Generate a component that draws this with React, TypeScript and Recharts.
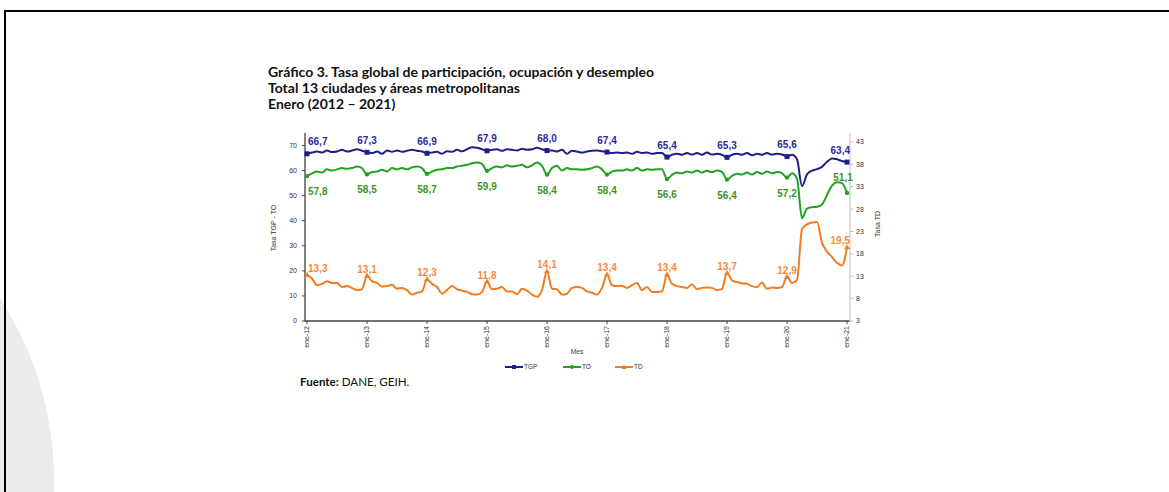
import { LineChart, Line, XAxis, YAxis, LabelList } from "recharts";

const MONTHS = ["ene", "feb", "mar", "abr", "may", "jun", "jul", "ago", "sep", "oct", "nov", "dic"];
const YEARS = ["12", "13", "14", "15", "16", "17", "18", "19", "20", "21"];
// ene-12 ... ene-21
const PERIODS = YEARS.flatMap((y) => MONTHS.map((m) => `${m}-${y}`)).slice(0, 109);

// Tasa global de participación
const TGP = [
  66.7, 67.2, 67.6, 67.2, 68.0, 67.4, 67.6, 68.3, 67.6, 68.0, 68.5, 67.9,
  67.3, 67.0, 67.6, 66.7, 68.0, 67.5, 68.0, 67.5, 67.9, 68.3, 67.9, 67.6,
  66.9, 67.2, 67.5, 66.7, 67.7, 67.5, 68.3, 67.7, 68.5, 69.3, 69.1, 68.5,
  67.9, 68.3, 68.5, 67.9, 68.5, 68.3, 68.0, 68.7, 68.3, 68.5, 69.1, 68.5,
  68.0, 68.0, 67.6, 68.3, 66.7, 67.9, 67.6, 67.2, 67.6, 67.9, 68.0, 67.7,
  67.4, 67.0, 67.2, 67.0, 67.2, 66.7, 67.5, 67.0, 67.2, 66.7, 67.0, 67.0,
  65.4, 66.3, 66.7, 66.3, 67.0, 66.4, 67.0, 66.3, 67.2, 66.4, 66.7, 66.3,
  65.3, 66.3, 66.7, 66.3, 67.0, 66.1, 66.7, 66.3, 67.0, 66.4, 66.7, 66.4,
  65.6, 66.3, 64.5, 53.8, 58.5, 60.0, 60.6, 61.5, 63.5, 64.8, 64.5, 63.8,
  63.4,
];

// Tasa de ocupación
const TO = [
  57.8, 58.9, 59.6, 59.2, 60.5, 60.0, 60.5, 61.0, 60.7, 61.0, 61.6, 61.0,
  58.5, 59.4, 59.6, 60.3, 59.6, 61.0, 60.5, 61.0, 60.5, 61.3, 61.6, 61.0,
  58.7, 59.6, 60.3, 60.5, 61.0, 61.0, 61.6, 61.9, 62.3, 62.9, 63.2, 62.7,
  59.9, 61.0, 61.6, 61.3, 62.1, 61.6, 61.9, 62.3, 61.3, 62.1, 63.2, 61.9,
  58.4, 61.0, 61.9, 60.0, 61.0, 60.5, 60.5, 60.3, 60.5, 61.0, 61.6, 60.5,
  58.4, 59.6, 60.0, 60.0, 60.5, 60.0, 61.0, 60.0, 60.5, 60.3, 60.5, 60.5,
  56.6, 58.3, 59.2, 58.9, 59.6, 59.2, 60.0, 59.2, 59.9, 59.4, 60.0, 59.5,
  56.4, 57.9, 58.7, 58.4, 59.2, 58.4, 59.4, 58.7, 59.6, 58.9, 59.4, 58.9,
  57.2, 58.9, 56.8, 41.0, 44.8, 45.4, 45.6, 46.5, 50.3, 54.0, 55.4, 55.0,
  51.1,
];

// Tasa de desempleo (eje derecho)
const TD = [
  13.3, 12.5, 11.0, 11.3, 11.9, 11.5, 11.5, 10.6, 10.8, 10.4, 9.9, 10.1,
  13.1, 11.9, 11.5, 10.7, 10.8, 11.1, 10.2, 10.4, 9.9, 8.9, 9.3, 9.6,
  12.3, 11.3, 10.6, 9.1, 9.9, 10.8, 10.1, 9.8, 9.5, 9.0, 8.9, 9.5,
  11.8, 10.1, 10.2, 10.6, 9.6, 9.6, 9.0, 10.2, 9.8, 8.9, 8.4, 9.9,
  14.1, 10.2, 10.1, 8.9, 9.1, 10.4, 10.6, 10.4, 9.6, 9.3, 8.9, 10.4,
  13.4, 11.0, 10.8, 10.8, 10.4, 11.0, 11.5, 9.9, 10.6, 9.5, 9.5, 9.6,
  13.4, 11.3, 10.8, 10.6, 10.4, 11.2, 10.1, 10.4, 10.5, 10.4, 9.9, 10.2,
  13.7, 12.1, 11.7, 11.4, 11.3, 10.8, 10.6, 11.6, 10.2, 10.5, 10.4, 10.6,
  12.9, 11.5, 12.2, 23.5, 24.6, 25.0, 25.1, 20.5, 18.5, 17.3, 16.0, 15.4,
  19.5,
];

const LEFT_TICKS = [0, 10, 20, 30, 40, 50, 60, 70];
const RIGHT_TICKS = [3, 8, 13, 18, 23, 28, 33, 38, 43];

const NAVY = "#1f1f8c";
const GREEN = "#22a222";
const ORANGE = "#f07d22";

const data = PERIODS.map((mes, i) => ({ mes, tgp: TGP[i], to: TO[i], td: TD[i] }));
const LAST = PERIODS.length - 1;

const fmt = (v: number) => v.toFixed(1).replace(".", ",");

const MonthTick = (props: any) => {
  const { x, y, payload } = props;
  return (
    <text
      transform={`translate(${x},${y}) rotate(-90)`}
      textAnchor="end"
      dy="0.35em"
      fontSize={7}
      fill="#333"
      fontFamily="Liberation Sans, Arial, sans-serif"
    >
      {payload.value}
    </text>
  );
};

const tgpDot = (p: any) =>
  p.index % 12 === 0 ? (
    <rect key={p.index} x={p.cx - 2.5} y={p.cy - 2.5} width={5} height={5} fill={NAVY} />
  ) : (
    <g key={p.index} />
  );

const toDot = (p: any) =>
  p.index % 12 === 0 ? (
    <circle key={p.index} cx={p.cx} cy={p.cy} r={2.2} fill={GREEN} />
  ) : (
    <g key={p.index} />
  );

const tdDot = (p: any) =>
  p.index % 12 === 0 ? (
    <path key={p.index} d={`M${p.cx},${p.cy - 3}L${p.cx + 3},${p.cy + 2}L${p.cx - 3},${p.cy + 2}Z`} fill={ORANGE} />
  ) : (
    <g key={p.index} />
  );

// one label per January
const makeLabel = (color: string, below: boolean) => (p: any) => {
  const { x, y, value, index } = p;
  if (index % 12 !== 0) return null;
  let anchor = "middle";
  let lx = x;
  let ly = below ? y + 19 : y - 8.5;
  if (index === 0) {
    anchor = "start";
    lx = x + 1;
  }
  if (index === LAST) {
    if (below) {
      ly = y - 12;
      lx = x - 4;
    } else {
      anchor = "end";
      lx = x + 3;
    }
  }
  return (
    <text
      key={index}
      x={lx}
      y={ly}
      textAnchor={anchor}
      fontSize={10}
      fontWeight="bold"
      fill={color}
      fontFamily="Liberation Sans, Arial, sans-serif"
    >
      {fmt(value)}
    </text>
  );
};

const tdLabel = (p: any) => {
  const { x, y, value, index } = p;
  if (index % 12 !== 0) return null;
  let anchor = "middle";
  let lx = x;
  if (index === 0) {
    anchor = "start";
    lx = x + 1;
  }
  if (index === LAST) {
    anchor = "end";
    lx = x + 3;
  }
  return (
    <text
      key={index}
      x={lx}
      y={y - 3}
      textAnchor={anchor}
      fontSize={10}
      fontWeight="bold"
      fill="#f78a3a"
      fontFamily="Liberation Sans, Arial, sans-serif"
    >
      {fmt(value)}
    </text>
  );
};

const axisTick = { fontSize: 7, fill: "#333", fontFamily: "Liberation Sans, Arial, sans-serif" };

function LegendItem({ x, color, name, shape }: { x: number; color: string; name: string; shape: string }) {
  const cx = x + 9;
  return (
    <g>
      <line x1={x} y1={367} x2={x + 18} y2={367} stroke={color} strokeWidth={2} />
      {shape === "square" && <rect x={cx - 2} y={365} width={4} height={4} fill={color} />}
      {shape === "circle" && <circle cx={cx} cy={367} r={2} fill={color} />}
      {shape === "tri" && <path d={`M${cx},${364.5}L${cx + 2.5},${369}L${cx - 2.5},${369}Z`} fill={color} />}
      <text x={x + 19} y={369.2} fontSize={6.5} fill="#333" fontFamily="Liberation Sans, Arial, sans-serif">
        {name}
      </text>
    </g>
  );
}

export default function App() {
  return (
    <div
      style={{
        position: "fixed",
        left: 0,
        top: 0,
        width: 1169,
        height: 492,
        overflow: "hidden",
        background: "#fff",
      }}
    >
      {/* decorative circle bottom-left */}
      <div
        style={{
          position: "absolute",
          left: -279 - 333,
          top: 480 - 333,
          width: 666,
          height: 666,
          borderRadius: "50%",
          background: "#ebebeb",
        }}
      />
      {/* page frame */}
      <div
        style={{
          position: "absolute",
          left: 4,
          top: 10,
          width: 1200,
          height: 600,
          borderTop: "2px solid #000",
          borderLeft: "2px solid #000",
        }}
      />

      <div
        style={{
          position: "absolute",
          left: 268,
          top: 64,
          fontFamily: "Lato, sans-serif",
          fontWeight: "bold",
          fontSize: 14,
          lineHeight: "16px",
          color: "#111",
          whiteSpace: "nowrap",
        }}
      >
        <div>Gráfico 3. Tasa global de participación, ocupación y desempleo</div>
        <div>Total 13 ciudades y áreas metropolitanas</div>
        <div>Enero (2012 – 2021)</div>
      </div>

      <div style={{ position: "absolute", left: 260, top: 125 }}>
        <LineChart width={640} height={260} data={data} margin={{ top: 8, right: 0, bottom: 0, left: 0 }}>
          <XAxis
            dataKey="mes"
            interval={11}
            height={64}
            tick={<MonthTick />}
            tickSize={3}
            tickLine={{ stroke: "#444" }}
            axisLine={{ stroke: "#444", strokeWidth: 1.5 }}
            padding={{ left: 2, right: 3 }}
          />
          <YAxis
            yAxisId="l"
            domain={[0, 75]}
            ticks={LEFT_TICKS}
            width={45}
            tickSize={3}
            tickMargin={5}
            tick={axisTick}
            tickLine={{ stroke: "#444" }}
            axisLine={{ stroke: "#333", strokeWidth: 1.2 }}
          />
          <YAxis
            yAxisId="r"
            orientation="right"
            domain={[3, 45]}
            ticks={RIGHT_TICKS}
            width={50}
            tickSize={3}
            tickMargin={3}
            tick={axisTick}
            tickLine={{ stroke: "#bbb" }}
            axisLine={{ stroke: "#ccc", strokeWidth: 1.2 }}
          />
          <Line
            yAxisId="l"
            type="monotone"
            dataKey="tgp"
            stroke={NAVY}
            strokeWidth={2}
            dot={tgpDot}
            activeDot={false}
            isAnimationActive={false}
          >
            <LabelList dataKey="tgp" content={makeLabel("#2a2a9c", false)} />
          </Line>
          <Line
            yAxisId="l"
            type="monotone"
            dataKey="to"
            stroke={GREEN}
            strokeWidth={2}
            dot={toDot}
            activeDot={false}
            isAnimationActive={false}
          >
            <LabelList dataKey="to" content={makeLabel("#3f9420", true)} />
          </Line>
          <Line
            yAxisId="r"
            type="monotone"
            dataKey="td"
            stroke={ORANGE}
            strokeWidth={2}
            dot={tdDot}
            activeDot={false}
            isAnimationActive={false}
          >
            <LabelList dataKey="td" content={tdLabel} />
          </Line>
        </LineChart>
      </div>

      <svg style={{ position: "absolute", left: 0, top: 0 }} width={1169} height={492}>
        <text
          transform="translate(276,228) rotate(-90)"
          textAnchor="middle"
          fontSize={7}
          fill="#333"
          fontFamily="Liberation Sans, Arial, sans-serif"
        >
          Tasa TGP - TO
        </text>
        <text
          transform="translate(880,224) rotate(-90)"
          textAnchor="middle"
          fontSize={7}
          fill="#333"
          fontFamily="Liberation Sans, Arial, sans-serif"
        >
          Tasa TD
        </text>
        <text x={577} y={354} textAnchor="middle" fontSize={6.5} fill="#333" fontFamily="Liberation Sans, Arial, sans-serif">
          Mes
        </text>
        <LegendItem x={505} color={NAVY} name="TGP" shape="square" />
        <LegendItem x={563} color={GREEN} name="TO" shape="circle" />
        <LegendItem x={615} color={ORANGE} name="TD" shape="tri" />
      </svg>

      <div
        style={{
          position: "absolute",
          left: 300,
          top: 375,
          fontFamily: "Lato, sans-serif",
          fontSize: 11.6,
          lineHeight: "14px",
          color: "#111",
          whiteSpace: "nowrap",
        }}
      >
        <b>Fuente:</b> DANE, GEIH.
      </div>
    </div>
  );
}
